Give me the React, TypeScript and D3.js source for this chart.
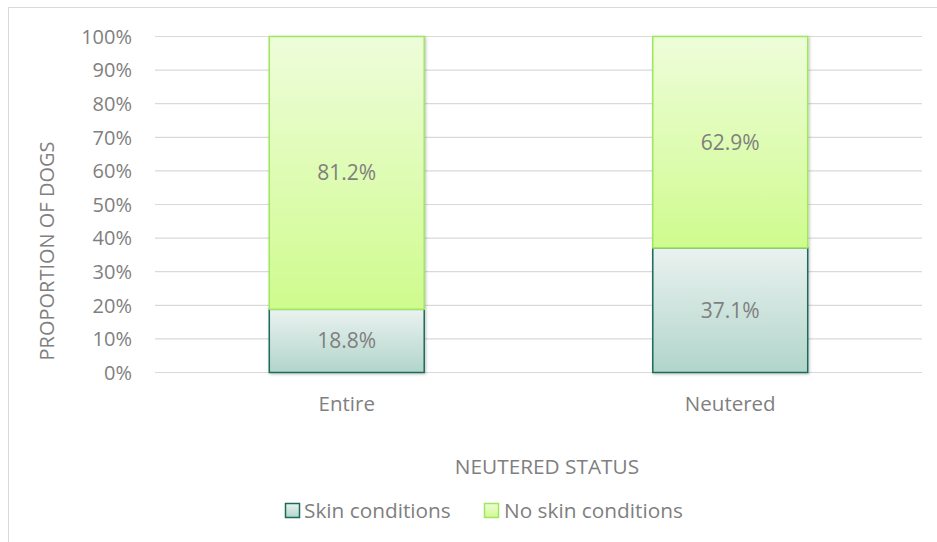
import React from "react";
import * as d3 from "d3";

const categories = ["Entire", "Neutered"];
const skinConditions = [18.8, 37.1];
const noSkinConditions = [81.2, 62.9];
const yTicks = [0, 10, 20, 30, 40, 50, 60, 70, 80, 90, 100];
const seriesNames = ["Skin conditions", "No skin conditions"];

const W = 937;
const H = 542;
const FONT = "'Open Sans', sans-serif";
const TXT = "#7f7f7f";
const FS = 20;

export default function App() {
  const x = d3.scaleBand<string>().domain(categories).range([155, 922]).paddingInner(0.596).paddingOuter(0.298);
  const y = d3.scaleLinear().domain([0, 100]).range([372.5, 36.5]);
  const bw = x.bandwidth();

  return (
    <svg width={W} height={H} style={{ position: "absolute", left: 0, top: 0 }}>
      <defs>
        <linearGradient id="gSkin" x1="0" y1="0" x2="0" y2="1">
          <stop offset="0" stopColor="#eaf2f0" />
          <stop offset="1" stopColor="#b1d5ca" />
        </linearGradient>
        <linearGradient id="gNo" x1="0" y1="0" x2="0" y2="1">
          <stop offset="0" stopColor="#eefdda" />
          <stop offset="1" stopColor="#cffb8e" />
        </linearGradient>
        <filter id="sh" x="-10%" y="-10%" width="120%" height="120%">
          <feDropShadow dx="1" dy="1" stdDeviation="1.5" floodColor="#000" floodOpacity="0.25" />
        </filter>
      </defs>
      <rect x={0} y={0} width={W} height={H} fill="#fff" />
      <rect x={8.5} y={7.5} width={W + 20} height={H + 20} fill="#fff" stroke="#d9d9d9" strokeWidth={1} />
      {yTicks.map((t) => (
        <g key={t}>
          <line x1={155} x2={922} y1={y(t)} y2={y(t)} stroke="#d9d9d9" strokeWidth={1.2} />
          <text x={132} y={y(t)} dy="0.36em" textAnchor="end" fontFamily={FONT} fontSize={FS} fill={TXT}>
            {t}%
          </text>
        </g>
      ))}
      {categories.map((c, i) => {
        const x0 = x(c)!;
        const s = skinConditions[i];
        const n = noSkinConditions[i];
        return (
          <g key={c}>
            <g filter="url(#sh)">
              <rect x={x0} y={y(s)} width={bw} height={y(0) - y(s)} fill="url(#gSkin)" stroke="#1b6b58" strokeWidth={1.5} />
              <rect x={x0} y={y(s + n)} width={bw} height={y(s) - y(s + n)} fill="url(#gNo)" stroke="#9ee85d" strokeWidth={1.5} />
            </g>
            <text x={x0 + bw / 2} y={(y(0) + y(s)) / 2} dy="0.36em" textAnchor="middle" fontFamily={FONT} fontSize={21} fill={TXT}>
              {s.toFixed(1)}%
            </text>
            <text x={x0 + bw / 2} y={(y(s) + y(s + n)) / 2} dy="0.36em" textAnchor="middle" fontFamily={FONT} fontSize={21} fill={TXT}>
              {n.toFixed(1)}%
            </text>
            <text x={x0 + bw / 2} y={404} dy="0.36em" textAnchor="middle" fontFamily={FONT} fontSize={20.5} fill={TXT}>
              {c}
            </text>
          </g>
        );
      })}
      <text x={547} y={467} dy="0.36em" textAnchor="middle" fontFamily={FONT} fontSize={20.8} fill={TXT}>
        NEUTERED STATUS
      </text>
      <text transform={`translate(47,251) rotate(-90)`} dy="0.36em" textAnchor="middle" fontFamily={FONT} fontSize={FS} fill={TXT}>
        PROPORTION OF DOGS
      </text>
      <g>
        <rect x={285.5} y={503.5} width={14} height={14} fill="url(#gSkin)" stroke="#1b6b58" strokeWidth={1.5} />
        <text x={304} y={510.5} dy="0.36em" fontFamily={FONT} fontSize={20.8} fill={TXT}>{seriesNames[0]}</text>
        <rect x={484.5} y={503.5} width={14} height={14} fill="url(#gNo)" stroke="#9ee85d" strokeWidth={1.5} />
        <text x={504} y={510.5} dy="0.36em" fontFamily={FONT} fontSize={20.8} fill={TXT}>{seriesNames[1]}</text>
      </g>
    </svg>
  );
}
